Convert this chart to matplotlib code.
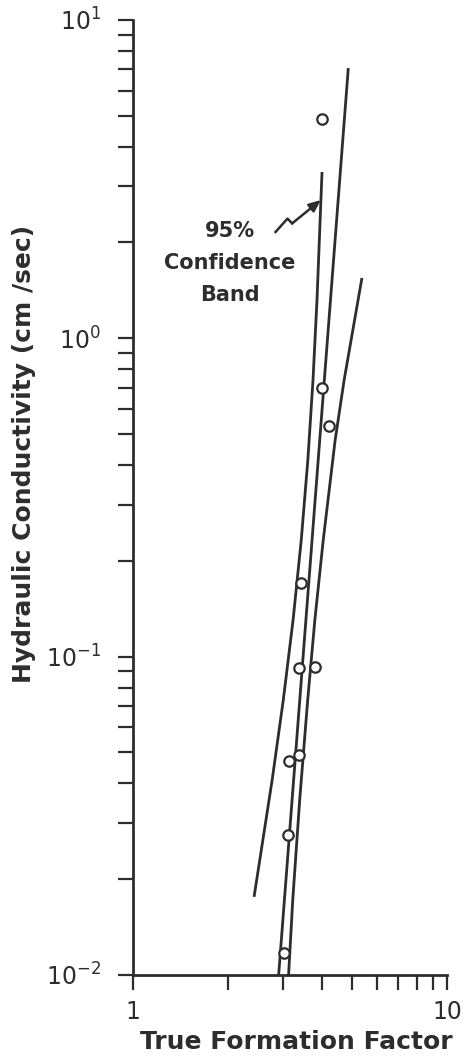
import matplotlib.pyplot as plt
import numpy as np
from matplotlib.ticker import NullFormatter

# measured samples: true formation factor vs hydraulic conductivity (cm/sec)
formation_factor = [4.0, 4.0, 4.2, 3.43, 3.37, 3.81, 3.13, 3.37, 3.11, 3.02]
conductivity = [4.9, 0.70, 0.53, 0.17, 0.092, 0.093, 0.047, 0.049, 0.0275, 0.0117]

# regression line end points (F, K)
fit_f = [2.91, 4.85]
fit_k = [0.01, 7.06]

# 95% confidence band, read along each edge
band_left_f = [2.43, 2.775, 3.011, 3.235, 3.435, 3.605, 3.744, 3.855, 4.0]
band_left_k = [0.0176, 0.041, 0.0731, 0.1304, 0.2326, 0.415, 0.74, 1.32, 3.33]
band_right_f = [3.13, 3.227, 3.396, 3.601, 3.795, 4.036, 4.405, 4.705, 5.36]
band_right_k = [0.01, 0.0172, 0.0355, 0.0731, 0.1304, 0.2326, 0.4795, 0.74, 1.548]

ink = '#2d2d2d'
plt.rcParams['mathtext.fontset'] = 'dejavusans'

fig = plt.figure(figsize=(4.69, 10.63), dpi=100)
ax = fig.add_axes([0.2836, 0.0828, 0.953 - 0.2836, 0.9812 - 0.0828])

line_kw = dict(color=ink, lw=2.0, solid_capstyle='butt',
               solid_joinstyle='round', zorder=2)
ax.plot(fit_f, fit_k, **line_kw)
ax.plot(band_left_f, band_left_k, **line_kw)
ax.plot(band_right_f, band_right_k, **line_kw)

ax.plot(formation_factor, conductivity, 'o', ms=7.5, mfc='white', mec=ink,
        mew=1.6, zorder=3)

ax.set_xscale('log')
ax.set_yscale('log')
ax.set_xlim(1, 10)
ax.set_ylim(0.01, 10)

ax.set_xticks([1, 10], labels=['1', '10'])
ax.set_yticks([0.01, 0.1, 1, 10],
              labels=[r'$10^{-2}$', r'$10^{-1}$', r'$10^{0}$', r'$10^{1}$'])
ax.xaxis.set_minor_formatter(NullFormatter())
ax.yaxis.set_minor_formatter(NullFormatter())
ax.tick_params(which='both', direction='out', length=11, width=1.6, color=ink,
               labelcolor=ink)
ax.tick_params(axis='x', which='major', labelsize=17, pad=7)
ax.tick_params(axis='y', which='major', labelsize=17, pad=12)

for s in ['top', 'right']:
    ax.spines[s].set_visible(False)
for s in ['left', 'bottom']:
    ax.spines[s].set_linewidth(2.0)
    ax.spines[s].set_color(ink)

ax.set_xlabel('True Formation Factor', fontsize=18, fontweight='bold', color=ink)
ax.set_ylabel('Hydraulic Conductivity (cm /sec)', fontsize=18,
              fontweight='bold', color=ink)
ax.xaxis.set_label_coords(0.52, -0.058)
ax.yaxis.set_label_coords(-0.31, 0.546)

# label for the band with a zigzag pointer onto its left edge
ax.text(0.308, 0.746, '95%\nConfidence\nBand', transform=ax.transAxes,
        ha='center', va='center', fontsize=15, fontweight='bold', color=ink,
        linespacing=1.75)

k_tip = 2.72
f_tip = 10 ** np.interp(np.log10(k_tip), np.log10(band_left_k),
                        np.log10(band_left_f))
tip = ax.transAxes.inverted().transform(ax.transData.transform((f_tip, k_tip)))
zig_x = [0.454, 0.492, 0.507]
zig_y = [0.778, 0.792, 0.787]
ax.plot(zig_x, zig_y, color=ink, lw=1.8, transform=ax.transAxes)
ax.annotate('', xy=tip, xycoords='axes fraction',
            xytext=(zig_x[-1], zig_y[-1]), textcoords='axes fraction',
            arrowprops=dict(arrowstyle='-|>,head_length=0.7,head_width=0.3',
                            color=ink, lw=1.8, shrinkA=0, shrinkB=0))

fig.savefig('out.png', dpi=100)
